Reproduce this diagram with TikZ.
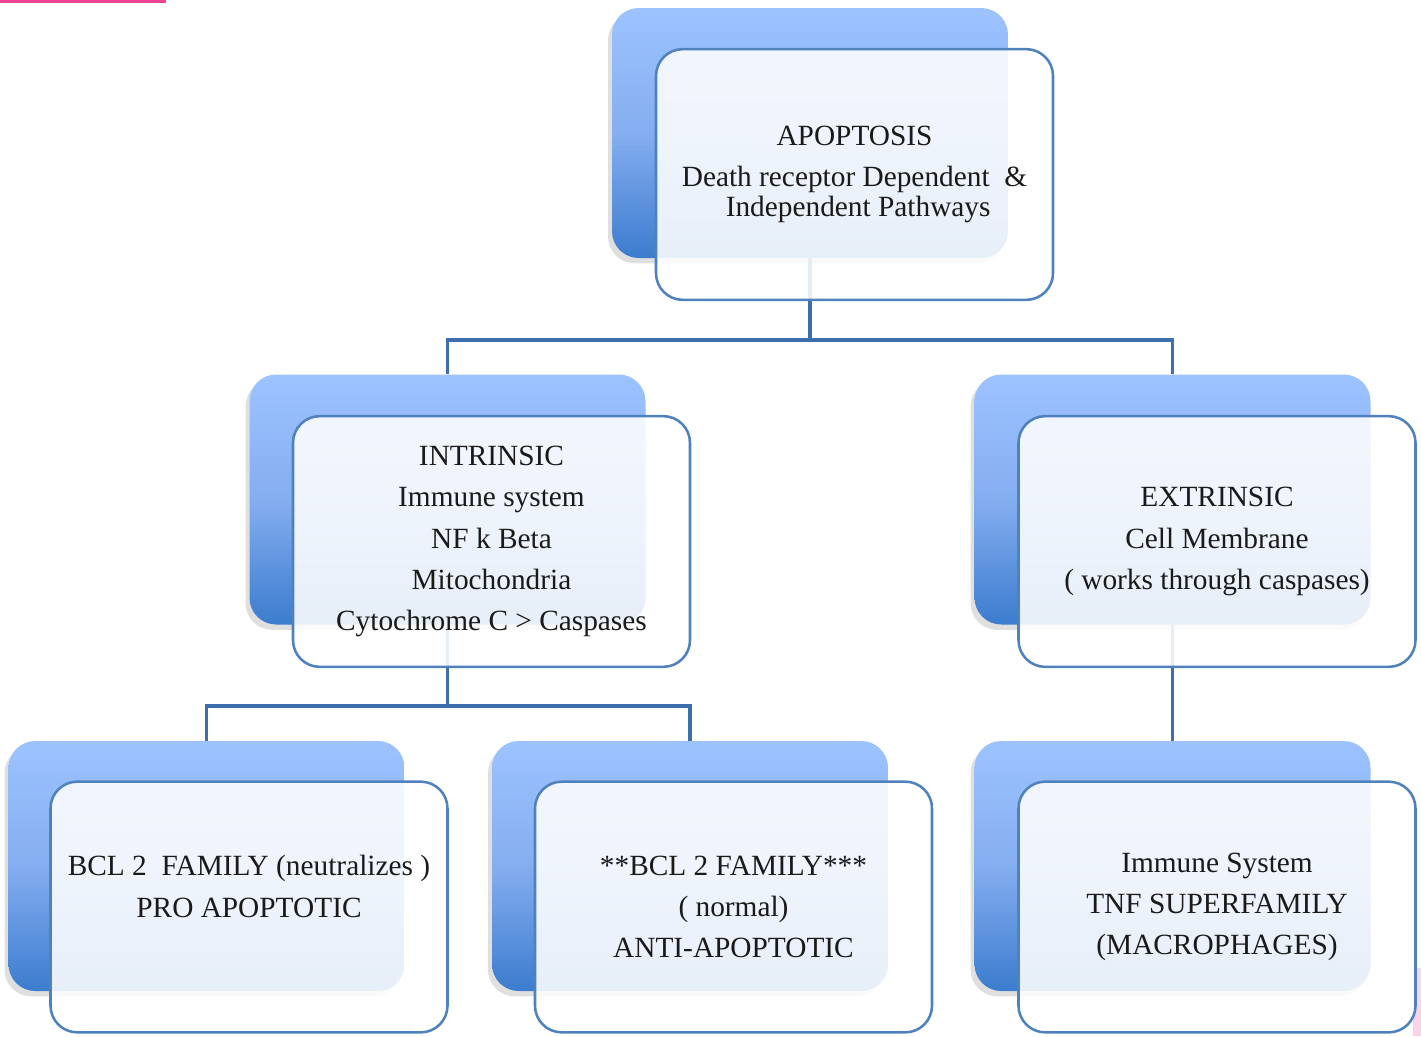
\documentclass[tikz,border=0pt]{standalone}
\usepackage{fontspec}
\setmainfont{Liberation Serif}
\usetikzlibrary{shadows}

\definecolor{boxtop}{HTML}{9DC3FF}
\definecolor{boxmid}{HTML}{85AEF0}
\definecolor{boxbot}{HTML}{3C7CCE}
\definecolor{rim}{HTML}{4F81BD}
\definecolor{wire}{HTML}{3F6EAD}
\definecolor{ink}{HTML}{1A1A1A}
\definecolor{hot}{HTML}{EE4392}
\definecolor{blush}{HTML}{FAD3E8}

\tikzset{
	plate/.style = {minimum width=297pt, minimum height=187.5pt, rounded corners=20pt,
		top color=boxtop, bottom color=boxbot, middle color=boxmid,
		drop shadow={shadow xshift=-3pt, shadow yshift=-4pt, opacity=.25}},
	card/.style = {minimum width=297.75pt, minimum height=188pt, rounded corners=20pt,
		draw=rim, line width=1.9pt, fill=white, fill opacity=.88, text opacity=1,
		align=center, text=ink, font=\fontsize{22}{31}\selectfont},
	branch/.style = {draw=wire, line width=2.3pt}
}

\begin{document}
\begin{tikzpicture}[x=0.75pt, y=-0.75pt]
	\useasboundingbox (0,0) rectangle (1421,1036);
	\fill [hot] (0,0) rectangle (166,3);
	\fill [blush] (1413,968) rectangle (1421,1036);
	% blue plates
	\node [plate] (apopB) at (810,133) {};
	\node [plate] (intrB) at (447.5,499.5) {};
	\node [plate] (extrB) at (1172.5,499.5) {};
	\node [plate] (proB) at (206.5,866) {};
	\node [plate] (antiB) at (690,866) {};
	\node [plate] (immB) at (1172.5,866) {};
	% links
	\coordinate (fork1) at (810,340);
	\coordinate (fork2) at (447.5,706);
	\draw [branch] (apopB.south) -- (fork1) -| (intrB.north);
	\draw [branch] (fork1) -| (extrB.north);
	\draw [branch] (intrB.south) -- (fork2) -| (proB.north);
	\draw [branch] (fork2) -| (antiB.north);
	\draw [branch] (extrB.south) -- (immB.north);
	% cards
	\node [card] (apop) at (854.5,174.5) {APOPTOSIS\\Death receptor Dependent\ \ \&\\[-8.5pt]\ Independent Pathways};
	\node [card] (intr) at (491.5,541.5) {INTRINSIC\\Immune system\\NF k Beta\\Mitochondria\\Cytochrome C > Caspases};
	\node [card] (extr) at (1217,541.5) {EXTRINSIC\\Cell Membrane\\( works through caspases)};
	\node [card] (pro) at (249,907) {BCL 2\ \ FAMILY (neutralizes )\\PRO APOPTOTIC\\\mbox{}};
	\node [card] (anti) at (733.5,907) {**BCL 2 FAMILY***\\( normal)\\ANTI-APOPTOTIC};
	\node [card] (imm) at (1217,907) {Immune System\\TNF SUPERFAMILY\\(MACROPHAGES)};
\end{tikzpicture}
\end{document}
